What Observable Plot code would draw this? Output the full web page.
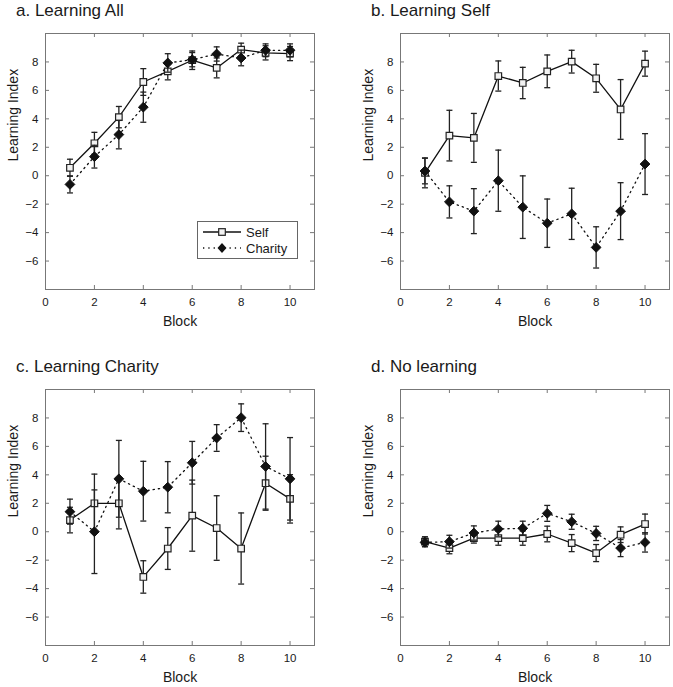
<!DOCTYPE html>
<html>
<head>
<meta charset="utf-8">
<script src="https://cdn.jsdelivr.net/npm/d3@7"></script>
<script src="https://cdn.jsdelivr.net/npm/@observablehq/plot@0.6"></script>
<style>
  body { margin: 0; background: white; }
  #wrap { position: relative; width: 673px; height: 687px; font-family: "Liberation Sans", Arial, Helvetica, sans-serif; color: #222; }
  .panel { position: absolute; }
  .ptitle { position: absolute; font-size: 17px; line-height: 17px; white-space: nowrap; color: #1a1a1a; }
  .legend { position: absolute; }
</style>
</head>
<body>
<div id="wrap"></div>
<script>
// ---- data ----
const blocks = [1, 2, 3, 4, 5, 6, 7, 8, 9, 10];
const xTicks = [0, 2, 4, 6, 8, 10];
const yTicks = [-6, -4, -2, 0, 2, 4, 6, 8];
const seriesNames = ["Self", "Charity"];
const panelTitles = ["a. Learning All", "b. Learning Self", "c. Learning Charity", "d. No learning"];

// a. Learning All
const allSelf       = [0.56, 2.28, 4.12, 6.59, 7.34, 8.12, 7.58, 8.87, 8.64, 8.59];
const allSelfErr    = [0.60, 0.77, 0.75, 0.94, 0.60, 0.65, 0.70, 0.45, 0.50, 0.50];
const allCharity    = [-0.61, 1.34, 2.89, 4.82, 7.93, 8.16, 8.56, 8.28, 8.82, 8.82];
const allCharityErr = [0.60, 0.80, 1.00, 1.06, 0.65, 0.50, 0.50, 0.55, 0.45, 0.45];

// b. Learning Self
const selfSelf       = [0.20, 2.82, 2.66, 7.01, 6.52, 7.34, 8.02, 6.85, 4.66, 7.88];
const selfSelfErr    = [1.05, 1.78, 1.72, 1.06, 1.10, 1.15, 0.80, 0.98, 2.10, 0.88];
const selfCharity    = [0.33, -1.84, -2.49, -0.35, -2.21, -3.34, -2.68, -5.04, -2.49, 0.82];
const selfCharityErr = [0.90, 1.13, 1.58, 2.15, 2.20, 1.70, 1.80, 1.45, 2.00, 2.14];

// c. Learning Charity
const charSelf       = [0.82, 2.00, 2.00, -3.18, -1.18, 1.13, 0.26, -1.18, 3.41, 2.31];
const charSelfErr    = [0.90, 2.05, 1.80, 1.14, 1.47, 2.50, 2.27, 2.50, 1.90, 1.70];
const charCharity    = [1.41, 0.00, 3.72, 2.85, 3.13, 4.85, 6.59, 8.02, 4.59, 3.72];
const charCharityErr = [0.88, 2.94, 2.70, 2.10, 1.80, 1.50, 0.94, 0.97, 3.00, 2.90];

// d. No learning
const noSelf       = [-0.70, -1.15, -0.45, -0.45, -0.45, -0.16, -0.80, -1.50, -0.21, 0.54];
const noSelfErr    = [0.35, 0.40, 0.35, 0.50, 0.50, 0.55, 0.60, 0.60, 0.55, 0.70];
const noCharity    = [-0.75, -0.70, -0.09, 0.19, 0.24, 1.29, 0.70, -0.12, -1.15, -0.75];
const noCharityErr = [0.30, 0.45, 0.50, 0.55, 0.50, 0.56, 0.53, 0.50, 0.60, 0.68];

// ---- drawing ----
const FONT = '"Liberation Sans", Arial, Helvetica, sans-serif';
const capSymbol = {
  draw(ctx, size) {
    const w = Math.sqrt(size / Math.PI);
    ctx.moveTo(-w, 0); ctx.lineTo(w, 0);
  }
};

function makePanel(self, selfErr, charity, charityErr, width, height, marginBottom) {
  const S = blocks.map((b, i) => ({block: b, v: self[i], e: selfErr[i]}));
  const C = blocks.map((b, i) => ({block: b, v: charity[i], e: charityErr[i]}));
  const plotW = 269, plotH = 256, tk = 4;
  const errMarks = (D) => [
    Plot.ruleX(D, {x: "block", y1: d => d.v - d.e, y2: d => d.v + d.e, stroke: "#222", strokeWidth: 1.3}),
    Plot.dot(D, {x: "block", y: d => d.v + d.e, symbol: capSymbol, r: 3, fill: "none", stroke: "#222", strokeWidth: 1.3}),
    Plot.dot(D, {x: "block", y: d => d.v - d.e, symbol: capSymbol, r: 3, fill: "none", stroke: "#222", strokeWidth: 1.3})
  ];
  return Plot.plot({
    width, height,
    marginLeft: 45, marginTop: 33, marginRight: width - 45 - plotW, marginBottom,
    style: {fontFamily: FONT, fontSize: "11.5px", color: "#1a1a1a", background: "white", overflow: "visible"},
    x: {domain: [0, 11]},
    y: {domain: [-8, 10]},
    marks: [
      Plot.frame({stroke: "#777", strokeWidth: 1}),
      // tick labels
      Plot.axisX({anchor: "bottom", ticks: xTicks, tickSize: 0, tickPadding: 8, label: null}),
      Plot.axisY({anchor: "left", ticks: yTicks, tickSize: 0, tickPadding: 7, label: null}),
      // inward ticks on all four sides
      Plot.tickX(xTicks, {x: d => d, insetTop: plotH - tk, stroke: "#777"}),
      Plot.tickX(xTicks, {x: d => d, insetBottom: plotH - tk, stroke: "#777"}),
      Plot.tickY(yTicks, {y: d => d, insetRight: plotW - tk, stroke: "#777"}),
      Plot.tickY(yTicks, {y: d => d, insetLeft: plotW - tk, stroke: "#777"}),
      // axis labels
      Plot.text(["Block"], {frameAnchor: "bottom", dy: 36, fontSize: 14, fill: "#1a1a1a"}),
      Plot.text(["Learning Index"], {frameAnchor: "left", rotate: -90, dx: -32, fontSize: 14, fill: "#1a1a1a"}),
      // Self series
      Plot.line(S, {x: "block", y: "v", stroke: "#111", strokeWidth: 1.3}),
      ...errMarks(S),
      Plot.dot(S, {x: "block", y: "v", symbol: "square", r: 3.7, fill: "#f2f2f2", stroke: "#222", strokeWidth: 1.2}),
      // Charity series
      Plot.line(C, {x: "block", y: "v", stroke: "#111", strokeWidth: 1.3, strokeDasharray: "1.3,4"}),
      ...errMarks(C),
      Plot.dot(C, {x: "block", y: "v", symbol: "diamond2", r: 4.4, fill: "#111", stroke: "#111", strokeWidth: 1})
    ]
  });
}

const wrap = document.getElementById("wrap");
const panels = [
  {args: [allSelf, allSelfErr, allCharity, allCharityErr], left: 0, top: 0, w: 336, h: 343, mb: 54, tl: 16, tt: 2},
  {args: [selfSelf, selfSelfErr, selfCharity, selfCharityErr], left: 355, top: 0, w: 318, h: 343, mb: 54, tl: 371, tt: 2},
  {args: [charSelf, charSelfErr, charCharity, charCharityErr], left: 0, top: 356, w: 336, h: 331, mb: 42, tl: 16, tt: 358},
  {args: [noSelf, noSelfErr, noCharity, noCharityErr], left: 355, top: 356, w: 318, h: 331, mb: 42, tl: 371, tt: 358}
];
panels.forEach((p, i) => {
  const div = document.createElement("div");
  div.className = "panel";
  div.style.left = p.left + "px";
  div.style.top = p.top + "px";
  div.appendChild(makePanel(...p.args, p.w, p.h, p.mb));
  wrap.appendChild(div);
  const t = document.createElement("div");
  t.className = "ptitle";
  t.style.left = p.tl + "px";
  t.style.top = p.tt + "px";
  t.textContent = panelTitles[i];
  wrap.appendChild(t);
});

// legend inside panel a
const lg = d3.select(wrap).append("svg")
  .attr("class", "legend")
  .attr("width", 101).attr("height", 38)
  .style("left", "197px").style("top", "221px");
lg.append("rect").attr("x", 0.5).attr("y", 0.5).attr("width", 100).attr("height", 37)
  .attr("fill", "white").attr("stroke", "#666");
const rowsY = [11, 27];
seriesNames.forEach((name, i) => {
  const y = rowsY[i];
  lg.append("line").attr("x1", 6).attr("x2", 44).attr("y1", y).attr("y2", y)
    .attr("stroke", "#111").attr("stroke-width", 1.3)
    .attr("stroke-dasharray", i === 0 ? null : "1.3,4");
  if (i === 0) {
    lg.append("rect").attr("x", 25 - 3.3).attr("y", y - 3.3).attr("width", 6.6).attr("height", 6.6)
      .attr("fill", "#f2f2f2").attr("stroke", "#222").attr("stroke-width", 1.2);
  } else {
    lg.append("path").attr("d", `M25,${y - 5}L29.5,${y}L25,${y + 5}L20.5,${y}Z`).attr("fill", "#111");
  }
  lg.append("text").attr("x", 49).attr("y", y + 4.5).attr("font-size", 13)
    .attr("font-family", FONT).attr("fill", "#1a1a1a").text(name);
});
</script>
</body>
</html>
